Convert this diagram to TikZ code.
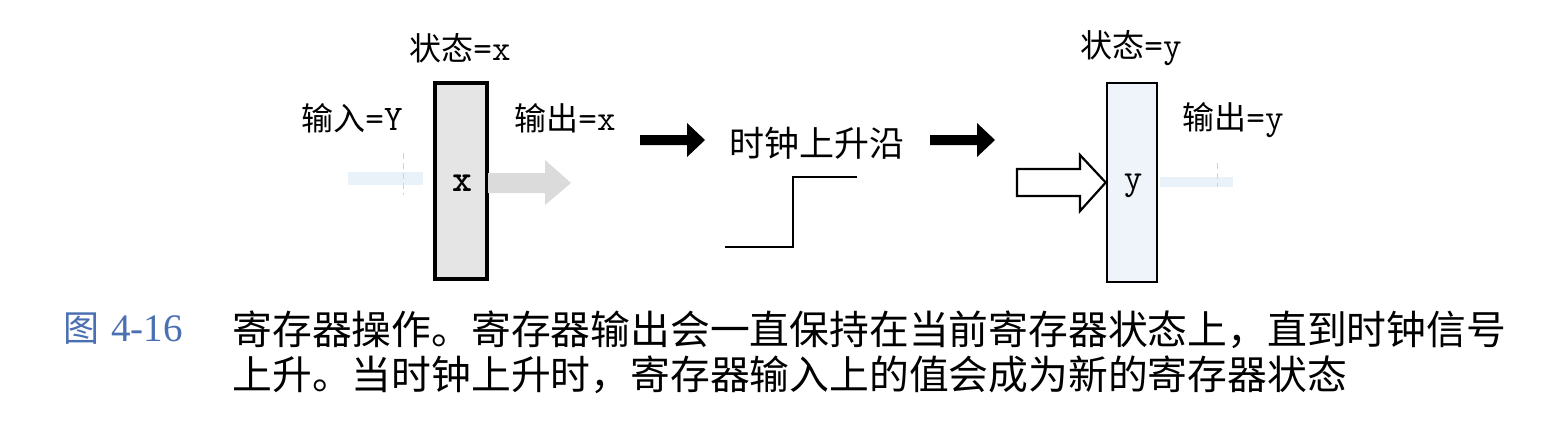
\documentclass[tikz,border=0pt]{standalone}
\usepackage{fontspec}
\newfontfamily\cjk{Noto Sans CJK SC}
\newfontfamily\tms{Liberation Serif}
\definecolor{capblue}{HTML}{4A6FB2}
\definecolor{boxblue}{HTML}{EEF4FA}
\definecolor{ghostblue}{HTML}{EAF2F9}
\newcommand\cj[1]{{\fontsize{16pt}{18pt}\selectfont\cjk #1}}
\newcommand\mo[1]{{\fontsize{18pt}{20pt}\selectfont\ttfamily #1}}
\newcommand\mob[1]{{\fontsize{19pt}{20pt}\selectfont\ttfamily\bfseries #1}}
\newcommand\capf{\fontsize{19.9pt}{22pt}\selectfont\cjk}
\begin{document}
\begin{tikzpicture}[x=0.5pt,y=-0.5pt,
  reg/.style={draw=black, rectangle, inner sep=0pt},
  lbl/.style={inner sep=0pt, anchor=center},
  blockarrow/.style={fill=black, draw=none},
]
\fill[white] (0,0) rectangle (1550,434);
\useasboundingbox (0,0) rectangle (1550,434);

% faint ghost marks
\fill[ghostblue] (348,172) rectangle (423,185);
\draw[gray!35, densely dashed, line width=0.5pt] (403,153) -- (403,195);
\fill[ghostblue] (1160,177) rectangle (1233,187);
\draw[gray!35, densely dashed, line width=0.5pt] (1217,163) -- (1217,187);

% left register
\node[reg, fill=gray!20, line width=1.6pt, minimum width=26pt, minimum height=98pt] (r1) at (461,181) {};
\node[lbl] (xv) at (462,183) {\mob{x}};
\fill[gray!28] (488,173) -- (545,173) -- (545,160) -- (571,183) -- (545,205) -- (545,193) -- (488,193) -- cycle;

% labels left
\node[lbl] (stx) at (460,48) {\cj{状态}\mo{=x}};
\node[lbl] (inY) at (352,118) {\cj{输入}\mo{=Y}};
\node[lbl] (outx) at (565,118) {\cj{输出}\mo{=x}};

% black arrows
\fill[blockarrow] (640,135) -- (687,135) -- (687,123) -- (705,140) -- (687,157) -- (687,145) -- (640,145) -- cycle;
\node[lbl] (clk) at (817,143) {{\fontsize{17.5pt}{20pt}\selectfont\cjk 时钟上升沿}};
\fill[blockarrow] (930,135) -- (977,135) -- (977,123) -- (995,140) -- (977,157) -- (977,145) -- (930,145) -- cycle;

% clock step
\draw[line width=1.3pt] (725,247) -- (793,247) -- (793,177) -- (857,177);

% right register
\node[reg, fill=boxblue, line width=1.3pt, minimum width=25pt, minimum height=99.5pt] (r2) at (1132,182.5) {};
\node[lbl] (yv) at (1133,186) {\mo{y}};
\draw[line width=1.1pt, fill=white] (1017,169) -- (1080,169) -- (1080,155) -- (r2.west) -- (1080,211) -- (1080,196) -- (1017,196) -- cycle;
\node[lbl] (sty) at (1131,48) {\cj{状态}\mo{=y}};
\node[lbl] (outy) at (1233,120) {\cj{输出}\mo{=y}};

% caption
\node[inner sep=0pt, anchor=west, text=capblue] (fig) at (63,329) {{\fontsize{18pt}{22pt}\selectfont\cjk 图}\hspace{6pt}{\fontsize{19.5pt}{22pt}\selectfont\tms 4-16}};
\node[inner sep=0pt, anchor=west] (cap1) at (232,330) {\capf 寄存器操作。寄存器输出会一直保持在当前寄存器状态上，直到时钟信号};
\node[inner sep=0pt, anchor=west] (cap2) at (232,375) {\capf 上升。当时钟上升时，寄存器输入上的值会成为新的寄存器状态};
\end{tikzpicture}
\end{document}
